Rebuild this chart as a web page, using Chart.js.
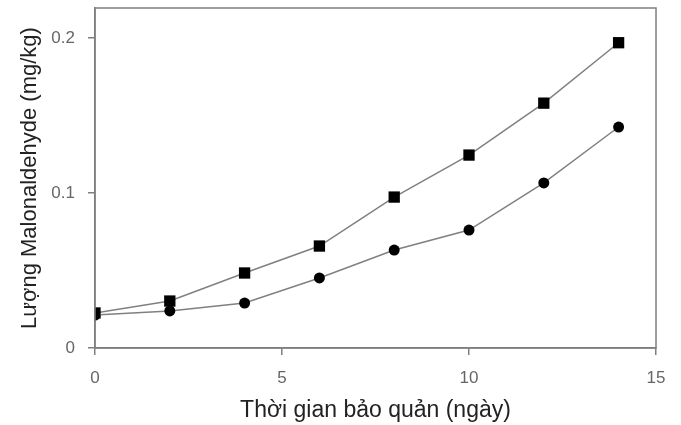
<!DOCTYPE html>
<html>
<head>
<meta charset="utf-8">
<script src="https://cdn.jsdelivr.net/npm/chart.js@4"></script>
<style>
  html, body { margin: 0; padding: 0; background: #fff; }
  #wrap { width: 681px; height: 425px; }
</style>
</head>
<body>
<div id="wrap"><canvas id="chart"></canvas></div>
<script>
// storage days
const days = [0, 2, 4, 6, 8, 10, 12, 14];
// malonaldehyde (mg/kg), square markers
const squareValues = [0.0226, 0.0303, 0.0484, 0.0658, 0.0974, 0.1245, 0.158, 0.197];
// malonaldehyde (mg/kg), circle markers
const circleValues = [0.0213, 0.0239, 0.029, 0.0452, 0.0632, 0.0761, 0.1065, 0.1426];
const yTickValues = [0, 0.1, 0.2];
const yTickLabels = ["0", "0.1", "0.2"];
const xTickValues = [0, 5, 10, 15];

const FONT = "'Liberation Sans', Arial, sans-serif";

const toPoints = (vals) => days.map((d, i) => ({ x: d, y: vals[i] }));

// box around the plot area
const frame = {
    id: "frame",
    afterDraw(chart) {
        const { ctx, chartArea } = chart;
        ctx.save();
        ctx.strokeStyle = "#7f7f7f";
        ctx.lineWidth = 1.5;
        ctx.strokeRect(chartArea.left, chartArea.top, chartArea.right - chartArea.left, chartArea.bottom - chartArea.top);
        ctx.restore();
    }
};

new Chart(document.getElementById("chart"), {
    type: "line",
    data: {
        datasets: [
            {
                data: toPoints(circleValues),
                borderColor: "#808080",
                borderWidth: 1.5,
                pointStyle: "circle",
                pointRadius: 5.5,
                pointBackgroundColor: "#000",
                pointBorderWidth: 0,
                tension: 0,
            },
            {
                data: toPoints(squareValues),
                borderColor: "#808080",
                borderWidth: 1.5,
                pointStyle: "rect",
                pointRadius: 8,
                pointBackgroundColor: "#000",
                pointBorderWidth: 0,
                tension: 0,
            },
        ],
    },
    options: {
        responsive: true,
        maintainAspectRatio: false,
        animation: false,
        layout: { padding: { top: 8, right: 25, left: 0, bottom: 0 } },
        plugins: { legend: { display: false }, tooltip: { enabled: false } },
        scales: {
            x: {
                type: "linear",
                min: 0,
                max: 15,
                afterBuildTicks: (scale) => { scale.ticks = xTickValues.map(v => ({ value: v })); },
                afterFit: (scale) => { scale.height = 77; },
                grid: { drawOnChartArea: false, tickLength: 7, color: "#7f7f7f", lineWidth: 1.5 },
                border: { color: "#7f7f7f", width: 1.5 },
                ticks: { color: "#666", font: { family: FONT, size: 17 }, padding: 13, maxRotation: 0 },
                title: {
                    display: true,
                    text: "Thời gian bảo quản (ngày)",
                    color: "#222",
                    font: { family: FONT, size: 23 },
                    padding: { top: 8, bottom: 1 },
                },
            },
            y: {
                type: "linear",
                min: 0,
                max: 0.2194,
                afterBuildTicks: (scale) => { scale.ticks = yTickValues.map(v => ({ value: v })); },
                afterFit: (scale) => {
                    scale.width = 95;
                    // no extra room for half-height labels, keep the plot top at the layout padding
                    scale.paddingTop = 0;
                    scale.paddingBottom = 0;
                },
                grid: { drawOnChartArea: false, tickLength: 7, color: "#7f7f7f", lineWidth: 1.5 },
                border: { color: "#7f7f7f", width: 1.5 },
                ticks: {
                    color: "#666",
                    font: { family: FONT, size: 17 },
                    padding: 13,
                    callback: (v) => yTickLabels[yTickValues.indexOf(v)] ?? "",
                },
                title: {
                    display: true,
                    text: "Lượng Malonaldehyde (mg/kg)",
                    color: "#222",
                    font: { family: FONT, size: 22 },
                    padding: { top: 17, bottom: 0 },
                },
            },
        },
    },
    plugins: [frame],
});
</script>
</body>
</html>
